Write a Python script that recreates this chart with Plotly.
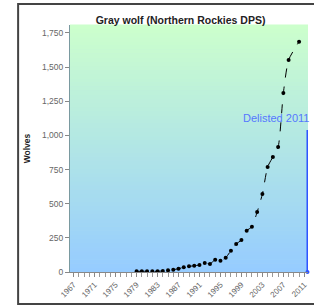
import plotly.graph_objects as go

# ---- data ----
years = [1979, 1980, 1981, 1982, 1983, 1984, 1985, 1986, 1987, 1988,
         1989, 1990, 1991, 1992, 1993, 1994, 1995, 1996, 1997, 1998,
         1999, 2000, 2001, 2002, 2003, 2004, 2005, 2006, 2007, 2008, 2010]
wolves = [5, 5, 5, 5, 5, 8, 12, 17, 24, 34,
          42, 45, 52, 66, 59, 90, 83, 105, 156, 205,
          234, 302, 332, 439, 571, 769, 842, 915, 1310, 1552, 1686]
tick_years = [1967, 1971, 1975, 1979, 1983, 1987, 1991, 1995, 1999, 2003, 2007, 2011]
y_ticks = [0, 250, 500, 750, 1000, 1250, 1500, 1750]
delist_year = [2011.6, 2011.6]
delist_span = [0, 1040]
delist_label = "Delisted 2011"
title = "Gray wolf (Northern Rockies DPS)"

fig = go.Figure()

# gradient background bands (green top -> blue bottom)
n = 60
top = (204, 255, 204)
bot = (150, 204, 255)
shapes = []
for i in range(n):
    t = i / (n - 1)
    c = tuple(int(round(bot[k] + (top[k] - bot[k]) * t)) for k in range(3))
    shapes.append(dict(type="rect", xref="paper", yref="paper",
                       x0=0, x1=1, y0=i / n, y1=(i + 1) / n + 0.002,
                       fillcolor="rgb(%d,%d,%d)" % c, line=dict(width=0),
                       layer="below"))
# outer frame
shapes.append(dict(type="rect", xref="paper", yref="paper",
                   x0=-0.218, x1=1.2, y0=-0.13, y1=1.085,
                   line=dict(color="#444", width=2), fillcolor="rgba(0,0,0,0)",
                   layer="above"))

fig.add_trace(go.Scatter(
    x=years, y=wolves, mode="lines+markers",
    line=dict(color="black", width=1, dash="dash", shape="spline", smoothing=0.6),
    marker=dict(color="black", size=4),
    showlegend=False, hoverinfo="x+y"))

fig.add_trace(go.Scatter(
    x=delist_year, y=delist_span, mode="lines",
    line=dict(color="#2f55ff", width=2),
    showlegend=False, cliponaxis=False))
fig.add_trace(go.Scatter(
    x=[delist_year[0]], y=[delist_span[0]], mode="markers",
    marker=dict(color="#2f55ff", size=4),
    showlegend=False, cliponaxis=False))

fig.add_annotation(x=delist_year[0], y=1127, text=delist_label,
                   xanchor="right", yanchor="middle", showarrow=False, xshift=4,
                   font=dict(family="Liberation Sans", size=11, color="#5577ff"))

fig.update_layout(
    width=314, height=306,
    margin=dict(l=70, r=6, t=25, b=34),
    paper_bgcolor="white",
    plot_bgcolor="#b4dcee",
    shapes=shapes,
    title=dict(text="<b>" + title + "</b>", x=0.575, xanchor="center",
               y=0.935, yanchor="middle",
               font=dict(family="Liberation Sans", size=10.5, color="#222")),
    font=dict(family="Liberation Sans", size=8, color="#555"),
    xaxis=dict(range=[1966.3, 2011.7], tickmode="array", tickvals=tick_years,
               ticktext=[str(y) for y in tick_years], tickangle=-45,
               ticks="outside", ticklen=4, tickcolor="#888",
               minor=dict(dtick=1, tick0=1967, ticks="outside", ticklen=4, tickcolor="#999"),
               showgrid=False, zeroline=False, showline=True, linecolor="#888",
               linewidth=1, tickfont=dict(size=8, color="#666")),
    yaxis=dict(range=[0, 1808], tickmode="array", tickvals=y_ticks,
               ticktext=["{:,}".format(v) for v in y_ticks],
               ticks="outside", ticklen=4, tickcolor="#888",
               showgrid=False, zeroline=False, showline=True, linecolor="#7a9aa0",
               linewidth=1, tickfont=dict(size=8.5, color="#666"),
               title=dict(text="<b>Wolves</b>", standoff=10,
                          font=dict(size=8.5, color="#222"))),
)

fig.write_html("out.html", config={"displayModeBar": False},
               post_script="document.body.style.margin='0';")
